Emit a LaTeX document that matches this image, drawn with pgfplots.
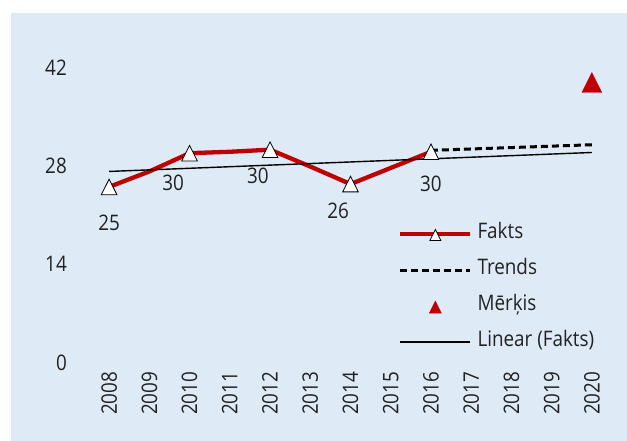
\documentclass[border=0pt]{standalone}
\usepackage{fontspec}
\setmainfont{Open Sans}[FakeStretch=0.88]
\usepackage{pgfplots}
\pgfplotsset{compat=1.18}
\definecolor{bgblue}{HTML}{DEEAF6}
\definecolor{dred}{HTML}{C00000}
\definecolor{txt}{HTML}{222222}
\newcommand{\cf}{\fontsize{21.5}{24}\selectfont}
\begin{document}
\begin{tikzpicture}[x=1bp,y=1bp]
\useasboundingbox (0,0) rectangle (627,441);
\fill[white] (0,0) rectangle (627,441);
\fill[bgblue] (11,0) rectangle (627,428);
\begin{axis}[
  at={(89bp,78.5bp)}, anchor=south west,
  scale only axis, width=523bp, height=295bp,
  xmin=2007.5, xmax=2020.5, ymin=0, ymax=42,
  axis line style={draw=none}, tick style={draw=none},
  xtick={2008,2009,...,2020}, ytick={0,14,28,42},
  /pgf/number format/assume math mode=true,
  /pgf/number format/1000 sep={},
  tick label style={font=\cf, text=txt},
  xticklabel style={rotate=90, anchor=east, inner sep=0pt},
  xticklabel shift=9bp,
  yticklabel style={anchor=east, inner sep=0pt},
  yticklabel shift=22bp,
  clip=false,
  legend style={draw=none, fill=none, at={(0.5851,0.4695)}, anchor=north west,
    font=\cf, text=txt, row sep=20bp, column sep=5bp,
    nodes={inner sep=0pt, text height=12bp, text depth=4bp},
    cells={anchor=west}},
]
\addplot[dred, line width=4.3bp, line join=round, mark=triangle*, mark size=9bp, mark repeat=2,
  mark options={fill=white, draw=black, line width=0.8bp, line join=miter, yshift=-2.6bp, yscale=1.15},
  legend image code/.code={
    \draw[dred, line width=4.3bp] (0bp,0bp) -- (70bp,0bp);
    \path[draw=black, fill=white, line width=0.8bp] plot[only marks, mark=triangle*, mark size=6.3bp] coordinates {(35bp,0bp)};
  }]
coordinates {(2008,25.0) (2009,27.2) (2010,29.8) (2011,30.0) (2012,30.3) (2013,27.9) (2014,25.4) (2015,27.7) (2016,30.0)};
\addlegendentry{Fakts}
\addplot[black, line width=3bp, dash pattern=on 7bp off 4bp,
  legend image code/.code={\draw[black, line width=3bp, dash pattern=on 7bp off 4bp] (0bp,0bp) -- (70bp,0bp);}]
coordinates {(2016,30.2) (2020,31.0)};
\addlegendentry{Trends}
\addplot[only marks, dred, mark=triangle*, mark size=11.5bp, mark options={yshift=-2.9bp, yscale=1.15},
  legend image code/.code={\path[fill=dred] plot[only marks, mark=triangle*, mark size=7bp] coordinates {(35bp,0bp)};}]
coordinates {(2020,39.8)};
\addlegendentry{Mērķis}
\addplot[black, line width=1.4bp,
  legend image code/.code={\draw[black, line width=1.4bp] (0bp,0bp) -- (70bp,0bp);}]
coordinates {(2008,27.2) (2020,29.9)};
\addlegendentry{Linear (Fakts)}
\node[font=\cf, text=txt] at (axis cs:2008,19.86) {25};
\node[font=\cf, text=txt] at (axis cs:2009.59,25.55) {30};
\node[font=\cf, text=txt] at (axis cs:2011.70,26.55) {30};
\node[font=\cf, text=txt] at (axis cs:2013.69,21.57) {26};
\node[font=\cf, text=txt] at (axis cs:2016,25.41) {30};
\end{axis}
\end{tikzpicture}
\end{document}
